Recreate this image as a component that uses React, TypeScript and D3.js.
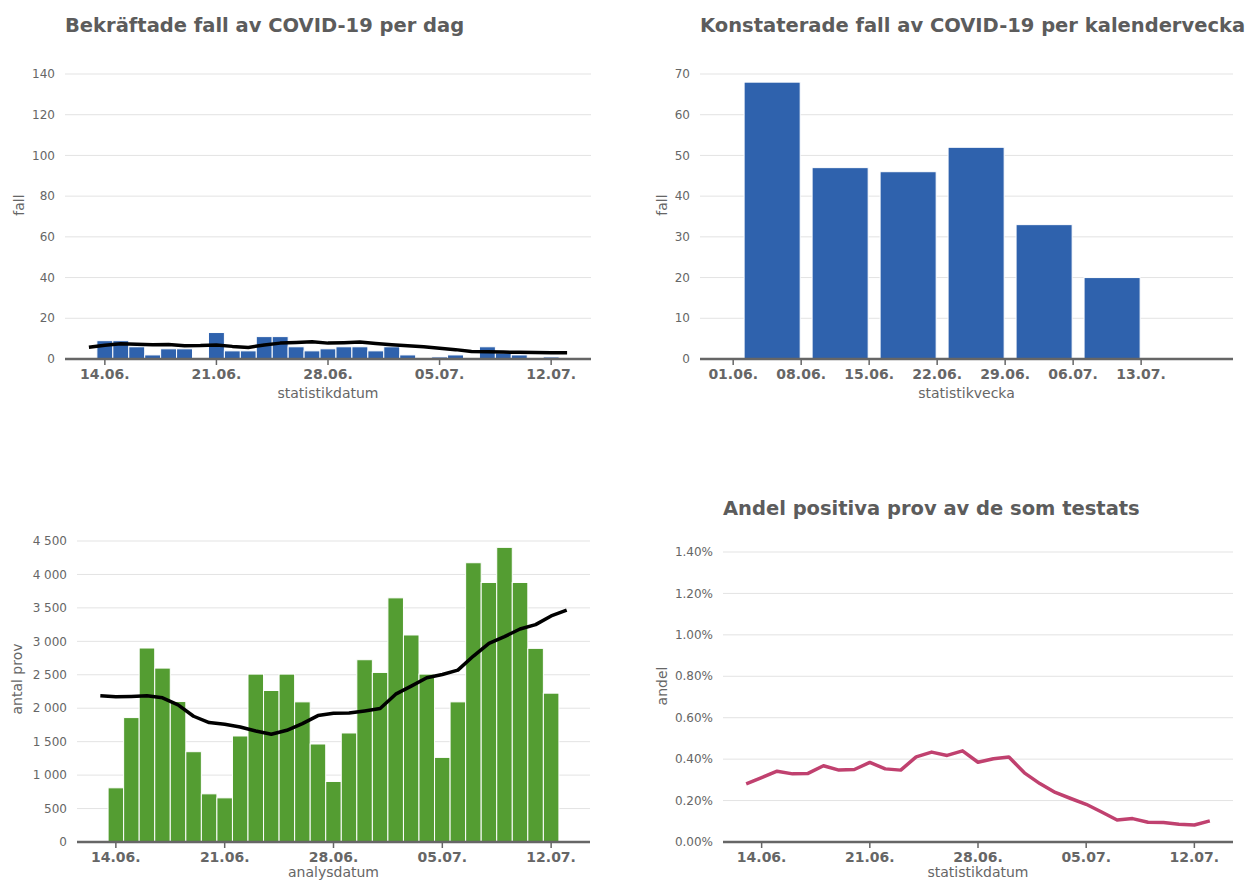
import React, { useEffect } from 'react';
import * as d3 from 'd3';

// one row per day, 13.06 - 13.07 (2020)
const dates = [
  '2020-06-13', '2020-06-14', '2020-06-15', '2020-06-16', '2020-06-17', '2020-06-18', '2020-06-19',
  '2020-06-20', '2020-06-21', '2020-06-22', '2020-06-23', '2020-06-24', '2020-06-25', '2020-06-26',
  '2020-06-27', '2020-06-28', '2020-06-29', '2020-06-30', '2020-07-01', '2020-07-02', '2020-07-03',
  '2020-07-04', '2020-07-05', '2020-07-06', '2020-07-07', '2020-07-08', '2020-07-09', '2020-07-10',
  '2020-07-11', '2020-07-12', '2020-07-13',
];
const dailyCases = [0, 9, 9, 6, 2, 5, 5, 0, 13, 4, 4, 11, 11, 6, 4, 5, 6, 6, 4, 6, 2, 0, 1, 2, 0, 6, 3, 2, 0, 1, 0];
const dailyCasesAvg = [5.8, 6.8, 7.5, 7.2, 7.0, 7.1, 6.5, 6.6, 6.9, 6.2, 5.7, 6.9, 7.8, 8.1, 8.5, 7.8, 8.0, 8.3, 7.6, 7.0,
  6.5, 6.0, 5.3, 4.6, 3.7, 3.6, 3.4, 3.3, 3.2, 3.1, 3.1];
const dailyTests = [null, 810, 1860, 2900, 2600, 2100, 1350, 720, 660, 1585, 2510, 2265, 2510, 2095, 1465, 905, 1630,
  2725, 2535, 3650, 3095, 2510, 1265, 2095, 4175, 3880, 4405, 3880, 2895, 2225, null];
const dailyTestsAvg = [2185, 2170, 2175, 2185, 2155, 2050, 1880, 1785, 1760, 1720, 1660, 1610, 1670, 1770, 1890, 1925,
  1930, 1960, 1995, 2210, 2330, 2455, 2505, 2570, 2780, 2970, 3070, 3185, 3250, 3380, 3465];
const positiveShare = [0.281, 0.311, 0.342, 0.329, 0.331, 0.368, 0.347, 0.350, 0.384, 0.353, 0.347, 0.411, 0.434, 0.418,
  0.440, 0.385, 0.402, 0.410, 0.334, 0.282, 0.239, 0.210, 0.182, 0.145, 0.106, 0.113, 0.095, 0.094, 0.086, 0.082, 0.102];

const weekStarts = ['2020-06-01', '2020-06-08', '2020-06-15', '2020-06-22', '2020-06-29', '2020-07-06'];
const weeklyCases = [68, 47, 46, 52, 33, 20];

const dayTicks = ['2020-06-14', '2020-06-21', '2020-06-28', '2020-07-05', '2020-07-12'];
const weekTicks = ['2020-06-01', '2020-06-08', '2020-06-15', '2020-06-22', '2020-06-29', '2020-07-06', '2020-07-13'];
const caseTicks = [0, 20, 40, 60, 80, 100, 120, 140];
const weekCaseTicks = [0, 10, 20, 30, 40, 50, 60, 70];
const testTicks = [0, 500, 1000, 1500, 2000, 2500, 3000, 3500, 4000, 4500];
const shareTicks = [0, 0.2, 0.4, 0.6, 0.8, 1.0, 1.2, 1.4];

const FONT = '"DejaVu Sans", Verdana, sans-serif';
const GRID = '#e3e3e3';
const AXIS = '#666666';
const LABEL = '#666666';
const TITLE = '#5c5c5c';
const BLUE = '#2f62ad';
const GREEN = '#549d32';
const PINK = '#c0416f';

const parse = d3.timeParse('%Y-%m-%d');
const fmtDay = d3.timeFormat('%d.%m.');
const svLocale = d3.formatLocale({ decimal: '.', thousands: ' ', grouping: [3], currency: ['', ''] });
const fmtThousands = svLocale.format(',d');
const fmtPct = (v) => d3.format('.2f')(v) + '%';

const dayDomain = [new Date(2020, 5, 11, 12), new Date(2020, 6, 14, 12)];

function YGrid({ y, ticks, left, right, fmt }) {
  return (
    <g>
      {ticks.map(t => (
        <g key={t}>
          {t !== 0 && <line x1={left} x2={right} y1={y(t)} y2={y(t)} stroke={GRID} strokeWidth={1} />}
          <text x={left - 10} y={y(t)} dy="0.35em" textAnchor="end" fontSize={12} fill={LABEL}>{fmt(t)}</text>
        </g>
      ))}
    </g>
  );
}

function XAxis({ x, ticks, bottom, left, right, title, titleGap = 39 }) {
  return (
    <g>
      {ticks.map(t => {
        const d = parse(t);
        return (
          <g key={t}>
            <line x1={x(d)} x2={x(d)} y1={bottom} y2={bottom + 6} stroke={AXIS} strokeWidth={1.5} />
            <text x={x(d)} y={bottom + 20} textAnchor="middle" fontSize={14} fontWeight="bold" fill={LABEL}>{fmtDay(d)}</text>
          </g>
        );
      })}
      <line x1={left} x2={right} y1={bottom} y2={bottom} stroke={AXIS} strokeWidth={2.5} />
      <text x={(left + right) / 2} y={bottom + titleGap} textAnchor="middle" fontSize={14} fill={LABEL}>{title}</text>
    </g>
  );
}

function YTitle({ x, y, text }) {
  return (
    <text transform={`translate(${x},${y}) rotate(-90)`} textAnchor="middle" fontSize={14} fill={LABEL}>{text}</text>
  );
}

function Title({ x, y, text }) {
  return <text x={x} y={y} fontSize={19.5} fontWeight="bold" fill={TITLE}>{text}</text>;
}

export default function App() {
  useEffect(() => {
    document.body.style.margin = '0';
  }, []);

  const days = dates.map(parse);

  // top left: daily cases
  const xTL = d3.scaleTime().domain(dayDomain).range([65, 591]);
  const yTL = d3.scaleLinear().domain([0, 140]).range([359, 74]);
  const dayTL = xTL(days[1]) - xTL(days[0]);
  const lineTL = d3.line().x((d, i) => xTL(days[i])).y(d => yTL(d));

  // top right: weekly cases
  const xTR = d3.scaleTime().domain([new Date(2020, 4, 28, 14), new Date(2020, 6, 22, 11)]).range([700, 1233]);
  const yTR = d3.scaleLinear().domain([0, 70]).range([359, 74]);

  // bottom left: tests
  const xBL = d3.scaleTime().domain(dayDomain).range([77, 590]);
  const yBL = d3.scaleLinear().domain([0, 4500]).range([842, 541]);
  const dayBL = xBL(days[1]) - xBL(days[0]);
  const lineBL = d3.line().x((d, i) => xBL(days[i])).y(d => yBL(d));

  // bottom right: share positive
  const xBR = d3.scaleTime().domain(dayDomain).range([723, 1233]);
  const yBR = d3.scaleLinear().domain([0, 1.4]).range([842, 552]);
  const lineBR = d3.line().x((d, i) => xBR(days[i])).y(d => yBR(d));

  return (
    <svg width={1249} height={881} style={{ display: 'block', position: 'absolute', left: 0, top: 0 }} fontFamily={FONT}>
      <rect width={1249} height={881} fill="#ffffff" />

      {/* top left */}
      <Title x={65} y={32} text="Bekräftade fall av COVID-19 per dag" />
      <YGrid y={yTL} ticks={caseTicks} left={65} right={591} fmt={v => String(v)} />
      <YTitle x={24} y={205} text="fall" />
      {dailyCases.map((v, i) => v > 0 && (
        <rect key={i} x={xTL(days[i]) - dayTL / 2} y={yTL(v)} width={dayTL} height={yTL(0) - yTL(v)}
          fill={BLUE} stroke="#ffffff" strokeWidth={1} />
      ))}
      <XAxis x={xTL} ticks={dayTicks} bottom={359} left={65} right={591} title="statistikdatum" />
      <path d={lineTL(dailyCasesAvg)} fill="none" stroke="#000000" strokeWidth={3.5} strokeLinejoin="round" />

      {/* top right */}
      <Title x={700} y={32} text="Konstaterade fall av COVID-19 per kalendervecka" />
      <YGrid y={yTR} ticks={weekCaseTicks} left={700} right={1233} fmt={v => String(v)} />
      <YTitle x={667} y={205} text="fall" />
      {weeklyCases.map((v, i) => {
        const s = parse(weekStarts[i]);
        const x0 = xTR(d3.timeHour.offset(s, 27));
        const x1 = xTR(d3.timeDay.offset(s, 7)) - 1;
        return <rect key={i} x={x0} y={yTR(v)} width={x1 - x0} height={yTR(0) - yTR(v)}
          fill={BLUE} stroke="#ffffff" strokeWidth={1} />;
      })}
      <XAxis x={xTR} ticks={weekTicks} bottom={359} left={700} right={1233} title="statistikvecka" />

      {/* bottom left */}
      <YGrid y={yBL} ticks={testTicks} left={77} right={590} fmt={fmtThousands} />
      <YTitle x={22} y={679} text="antal prov" />
      {dailyTests.map((v, i) => v != null && (
        <rect key={i} x={xBL(days[i]) - dayBL / 2} y={yBL(v)} width={dayBL} height={yBL(0) - yBL(v)}
          fill={GREEN} stroke="#ffffff" strokeWidth={1} />
      ))}
      <XAxis x={xBL} ticks={dayTicks} bottom={842} left={77} right={590} title="analysdatum" titleGap={35} />
      <path d={lineBL(dailyTestsAvg)} fill="none" stroke="#000000" strokeWidth={3.5} strokeLinejoin="round" />

      {/* bottom right */}
      <Title x={723} y={515} text="Andel positiva prov av de som testats" />
      <YGrid y={yBR} ticks={shareTicks} left={723} right={1233} fmt={fmtPct} />
      <YTitle x={667} y={686} text="andel" />
      <XAxis x={xBR} ticks={dayTicks} bottom={842} left={723} right={1233} title="statistikdatum" titleGap={35} />
      <path d={lineBR(positiveShare)} fill="none" stroke={PINK} strokeWidth={3.5} strokeLinejoin="round" />
    </svg>
  );
}
